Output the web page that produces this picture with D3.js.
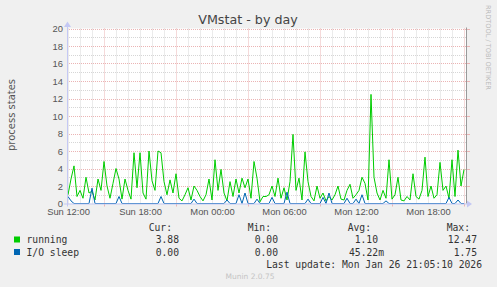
<!DOCTYPE html>
<html lang="en">
<head>
    <meta charset="UTF-8">
    <title>VMstat - by day</title>
    <style>
        body { margin: 0; background: #f0f0f0; }
        svg { display: block; font-family: 'DejaVu Sans', sans-serif; }
        .mono { font-family: 'DejaVu Sans Mono', monospace; font-size: 9.7px; fill: #333; }
        .tick text { font-size: 9.4px; fill: #555; }
    </style>
</head>
<body>
    <div id="chart"></div>

    <script src="https://d3js.org/d3.v7.min.js"></script>
    <script>
        // 15 minute samples, Sun 12:00 .. Mon 21:00
        const startTime = new Date(2026, 0, 25, 12, 0);
        const stepMinutes = 15;

        const running = [
            1.0, 2.8, 4.3, 0.8, 1.5, 0.6, 3.0, 1.2, 1.4, 0.4,
            2.8, 1.5, 4.8, 2.0, 0.6, 2.3, 4.0, 2.8, 0.5, 2.8,
            1.5, 0.5, 5.8, 1.8, 5.8, 1.2, 0.5, 6.0, 2.6, 1.5,
            6.0, 5.8, 2.5, 1.0, 2.7, 1.2, 3.4, 0.6, 0.3, 1.0,
            1.8, 0.4, 2.0, 1.5, 0.8, 0.3, 1.0, 2.8, 0.4, 5.0,
            1.5, 3.9, 1.2, 0.3, 2.5, 0.8, 2.8, 1.2, 2.9, 1.8,
            2.8, 0.6, 4.8, 2.9, 0.2, 0.8, 0.8, 1.0, 2.0, 0.8,
            2.9, 0.6, 1.8, 0.4, 2.5, 7.9, 1.5, 2.9, 0.4, 5.9,
            2.5, 0.8, 0.3, 2.0, 0.6, 1.2, 0.3, 0.8, 0.4, 1.0,
            2.0, 0.5, 0.4, 1.5, 2.2, 0.6, 1.0, 1.5, 3.0, 2.3,
            0.4, 12.47, 3.0, 1.2, 0.4, 1.5, 0.6, 5.0, 0.5, 1.0,
            3.0, 0.4, 0.3, 0.8, 0.4, 3.4, 0.8, 0.5, 1.5, 5.3,
            0.8, 2.0, 0.6, 1.0, 4.7, 1.5, 2.0, 0.6, 5.0, 0.8,
            6.1, 2.0, 3.88
        ];

        const ioSleep = [
            0.8, 0.3, 0, 0, 0, 0, 0, 0, 1.75, 0,
            0, 0, 0, 0, 0, 0, 0, 0.8, 0, 0,
            0, 0, 0, 0, 0, 0, 0, 0, 0, 0,
            0, 0.8, 0, 0, 0, 0, 0, 0, 0, 0,
            0, 0, 0.5, 0, 0, 0, 0, 0, 0, 0,
            0, 0, 0, 0.4, 0, 0, 0, 1.0, 0, 1.2,
            0, 0, 0, 0.5, 0, 0, 0, 0, 0.7, 0,
            0, 0, 0, 1.3, 0, 0, 0, 0, 0, 0,
            0.5, 0, 0, 0, 0, 0.7, 0, 1.2, 0, 0,
            0, 0, 0, 0.6, 0, 0, 0.5, 0, 1.0, 0,
            0, 0, 0, 0, 0, 0, 0.3, 0, 0, 0,
            0, 0, 0, 0, 0, 0, 0, 0, 0, 0,
            0, 0, 0, 0, 0, 0, 0, 0.7, 0, 0,
            0.4, 0, 0
        ];

        const seriesNames = ['running', 'I/O sleep'];
        const seriesColors = ['#00cc00', '#0066b3'];
        const legendHeaders = ['Cur:', 'Min:', 'Avg:', 'Max:'];
        const legendValues = [
            ['3.88', '0.00', '1.10', '12.47'],
            ['0.00', '0.00', '45.22m', '1.75']
        ];
        const yTicks = [0, 2, 4, 6, 8, 10, 12, 14, 16, 18, 20];

        const width = 497, height = 287;
        const plot = { left: 67, right: 467, top: 28.5, bottom: 203.5 };
        const majorColor = '#ebb4b4', minorColor = '#d6d6d6';

        const svg = d3.select('#chart').append('svg')
            .attr('width', width)
            .attr('height', height);

        svg.append('rect').attr('width', width).attr('height', height).attr('fill', '#f0f0f0');

        const x = d3.scaleTime()
            .domain([new Date(2026, 0, 25, 11, 55), new Date(2026, 0, 26, 21, 15)])
            .range([plot.left, plot.right]);
        const y = d3.scaleLinear().domain([0, 20]).range([plot.bottom, plot.top]);

        svg.append('rect')
            .attr('x', plot.left).attr('y', plot.top)
            .attr('width', 466 - plot.left).attr('height', plot.bottom - plot.top)
            .attr('fill', '#fff');

        const grid = svg.append('g');

        // minor grid, hourly / every unit
        const hours = d3.timeHour.range(new Date(2026, 0, 25, 12, 0), new Date(2026, 0, 26, 21, 10));
        grid.selectAll('.vminor').data(hours).enter().append('line')
            .attr('x1', d => Math.round(x(d)) + 0.5).attr('x2', d => Math.round(x(d)) + 0.5)
            .attr('y1', plot.top).attr('y2', plot.bottom)
            .attr('stroke', d => d.getHours() % 6 === 3 ? majorColor : minorColor)
            .attr('stroke-dasharray', '1,1');
        grid.selectAll('.hminor').data(d3.range(1, 21)).enter().append('line')
            .attr('x1', plot.left).attr('x2', 466)
            .attr('y1', d => Math.round(y(d)) + 0.5).attr('y2', d => Math.round(y(d)) + 0.5)
            .attr('stroke', d => d % 2 === 0 ? majorColor : minorColor)
            .attr('stroke-dasharray', '1,1');

        // red ticks outside the plot
        grid.selectAll('.rtick').data(yTicks.slice(1)).enter().append('line')
            .attr('x1', 467).attr('x2', 470)
            .attr('y1', d => Math.round(y(d)) + 0.5).attr('y2', d => Math.round(y(d)) + 0.5)
            .attr('stroke', majorColor);
        grid.selectAll('.btick').data(hours.filter(d => d.getHours() % 6 === 3)).enter().append('line')
            .attr('x1', d => Math.round(x(d)) + 0.5).attr('x2', d => Math.round(x(d)) + 0.5)
            .attr('y1', plot.bottom).attr('y2', plot.bottom + 3)
            .attr('stroke', majorColor);

        // right frame
        svg.append('line')
            .attr('x1', 466.5).attr('x2', 466.5).attr('y1', plot.top - 1).attr('y2', plot.bottom)
            .attr('stroke', '#999');

        // axes
        const yAxis = svg.append('g')
            .attr('transform', `translate(${plot.left - 3},0)`)
            .call(d3.axisLeft(y).tickValues(yTicks).tickSize(0).tickPadding(1));
        yAxis.select('.domain').remove();
        yAxis.selectAll('text').attr('dy', '0.34em');

        const xAxis = svg.append('g')
            .attr('transform', `translate(0,${plot.bottom})`)
            .call(d3.axisBottom(x).ticks(d3.timeHour.every(6)).tickSize(0).tickPadding(5)
                .tickFormat(d3.timeFormat('%a %H:%M')));
        xAxis.select('.domain').remove();

        // data lines
        const times = running.map((_, i) => new Date(startTime.getTime() + i * stepMinutes * 60000));
        const line = d3.line().x((d, i) => x(times[i])).y(d => y(d));
        [running, ioSleep].forEach((vals, k) => {
            svg.append('path')
                .datum(vals)
                .attr('d', line)
                .attr('fill', 'none')
                .attr('stroke', seriesColors[k])
                .attr('stroke-width', 1);
        });

        // axis lines with arrows
        const axisColor = '#c4c8f4';
        svg.append('line')
            .attr('x1', plot.left - 3).attr('x2', 468)
            .attr('y1', plot.bottom + 0.5).attr('y2', plot.bottom + 0.5)
            .attr('stroke', axisColor);
        svg.append('path').attr('d', 'M467,200.5 L472,204 L467,207.5 Z').attr('fill', axisColor);
        svg.append('line')
            .attr('x1', plot.left + 0.5).attr('x2', plot.left + 0.5)
            .attr('y1', plot.bottom + 3).attr('y2', 25)
            .attr('stroke', axisColor);
        svg.append('path').attr('d', 'M64,27 L67.5,21.5 L71,27 Z').attr('fill', axisColor);

        // titles
        svg.append('text')
            .attr('x', 248).attr('y', 24)
            .attr('text-anchor', 'middle')
            .style('font-size', '12.7px').style('fill', '#444')
            .text('VMstat - by day');

        svg.append('text')
            .attr('transform', 'translate(15,115) rotate(-90)')
            .attr('text-anchor', 'middle')
            .style('font-size', '10px').style('fill', '#555')
            .text('process states');

        svg.append('text')
            .attr('transform', 'translate(486,5) rotate(90)')
            .attr('text-anchor', 'start')
            .style('font-size', '6.6px').style('fill', '#bbb')
            .text('RRDTOOL / TOBI OETIKER');

        // legend
        const headerEnds = [172, 271, 371, 470];
        const valueEnds = [179, 278, 378, 477];
        legendHeaders.forEach((h, j) => {
            svg.append('text').attr('class', 'mono')
                .attr('x', headerEnds[j]).attr('y', 231)
                .attr('text-anchor', 'end').text(h);
        });
        seriesNames.forEach((name, k) => {
            const ty = 243 + k * 12.5;
            svg.append('rect')
                .attr('x', 14).attr('y', ty - 6.5).attr('width', 6).attr('height', 6)
                .attr('fill', seriesColors[k]);
            svg.append('text').attr('class', 'mono')
                .attr('x', 26.5).attr('y', ty).text(name);
            legendValues[k].forEach((v, j) => {
                const end = v.endsWith('m') ? valueEnds[j] + 6 : valueEnds[j];
                svg.append('text').attr('class', 'mono')
                    .attr('x', end).attr('y', ty)
                    .attr('text-anchor', 'end').text(v);
            });
        });

        svg.append('text').attr('class', 'mono')
            .attr('x', 482).attr('y', 268)
            .attr('text-anchor', 'end')
            .text('Last update: Mon Jan 26 21:05:10 2026');

        svg.append('text')
            .attr('x', 250).attr('y', 279)
            .attr('text-anchor', 'middle')
            .style('font-size', '7.5px').style('fill', '#c4c4c4')
            .text('Munin 2.0.75');
    </script>
</body>
</html>
